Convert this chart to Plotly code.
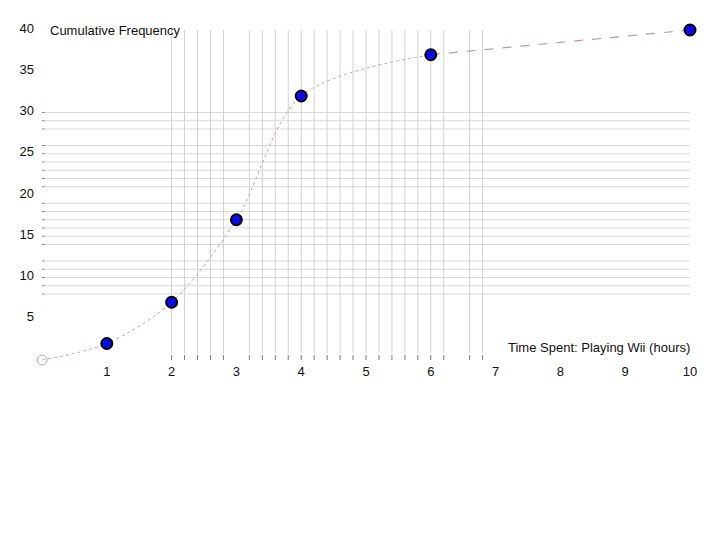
import plotly.graph_objects as go

# Data
upper_bounds = [0, 1, 2, 3, 4, 6]
cum_freq = [0, 2, 7, 17, 32, 37]
tail_x = [6, 10]
tail_y = [37, 40]
point_x = [1, 2, 3, 4, 6, 10]
point_y = [2, 7, 17, 32, 37, 40]

x_tick_vals = [1, 2, 3, 4, 5, 6, 7, 8, 9, 10]
y_tick_vals = [5, 10, 15, 20, 25, 30, 35, 40]

# grid lines as drawn in the original (with its gaps)
v_grid = [2.0, 2.2, 2.4, 2.6, 2.8, 3.2, 3.4, 3.6, 3.8, 4.0, 4.2, 4.4, 4.6, 4.8,
          5.0, 5.2, 5.4, 5.6, 5.8, 6.0, 6.2, 6.6, 6.8]
h_grid = [8, 9, 10, 11, 12, 14, 15, 16, 17, 18, 19, 21, 22, 23, 24, 25, 26, 28, 29, 30]

x_label = "Time Spent: Playing Wii (hours)"
y_label = "Cumulative Frequency"

fig = go.Figure()

shapes = []
for yv in h_grid:
    shapes.append(dict(type="line", xref="x", yref="y", x0=0.05, x1=10, y0=yv, y1=yv,
                       line=dict(color="#d9d9d9", width=1), layer="below"))
    shapes.append(dict(type="line", xref="x", yref="y", x0=-0.03, x1=0.045, y0=yv, y1=yv,
                       line=dict(color="#8a8a8a", width=1), layer="below"))
for xv in v_grid:
    shapes.append(dict(type="line", xref="x", yref="y", x0=xv, x1=xv, y0=0.85, y1=40,
                       line=dict(color="#d2d2d2", width=1), layer="below"))
    shapes.append(dict(type="line", xref="x", yref="y", x0=xv, x1=xv, y0=-0.2, y1=0.6,
                       line=dict(color="#7a7a7a", width=1), layer="below"))

fig.add_trace(go.Scatter(x=upper_bounds, y=cum_freq, mode="lines",
                         line=dict(shape="spline", smoothing=0.9, color="#c4a4a4", width=1, dash="dot"),
                         hoverinfo="skip", cliponaxis=False))
fig.add_trace(go.Scatter(x=tail_x, y=tail_y, mode="lines",
                         line=dict(color="#bf9a9a", width=1.2, dash="dash"),
                         hoverinfo="skip", cliponaxis=False))
fig.add_trace(go.Scatter(x=[upper_bounds[0]], y=[cum_freq[0]], mode="markers",
                         marker=dict(symbol="circle-open", size=10, color="#aaaaaa", line=dict(width=1)),
                         cliponaxis=False))
fig.add_trace(go.Scatter(x=point_x, y=point_y, mode="markers",
                         marker=dict(size=11, color="#0a0aee", line=dict(color="#000000", width=2)),
                         cliponaxis=False))

fig.add_annotation(x=0.1, y=40, xref="x", yref="y", text=y_label, showarrow=False,
                   xanchor="left", yanchor="middle",
                   font=dict(family="Liberation Sans, Arial", size=13, color="#111111"))
fig.add_annotation(x=10, y=1.5, xref="x", yref="y", text=x_label, showarrow=False,
                   xanchor="right", yanchor="middle", xshift=2,
                   font=dict(family="Liberation Sans, Arial", size=13, color="#111111"))

fig.update_layout(
    width=720, height=540,
    margin=dict(l=32, r=38, t=22, b=188),
    paper_bgcolor="white", plot_bgcolor="white",
    showlegend=False,
    shapes=shapes,
    font=dict(family="Liberation Sans, Arial", size=13, color="#111111"),
    xaxis=dict(range=[0, 10], tickvals=x_tick_vals, ticks="", showgrid=False,
               zeroline=False, showline=False, ticklabelstandoff=2),
    yaxis=dict(range=[0, 40], tickvals=y_tick_vals, ticks="", showgrid=False,
               zeroline=False, showline=False, ticklabelstandoff=7, ticklabelshift=-2),
)

fig.write_html("out.html")
